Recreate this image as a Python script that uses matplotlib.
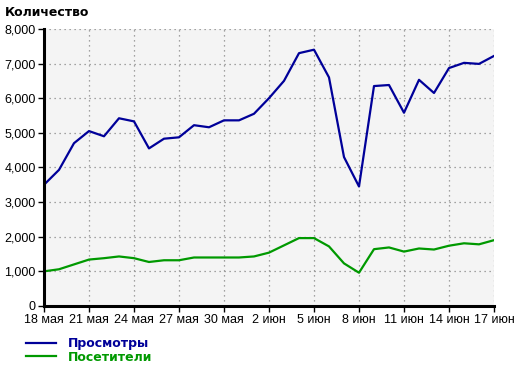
import matplotlib
matplotlib.use('Agg')
from matplotlib import pyplot as plt
from matplotlib.ticker import FuncFormatter
import numpy as np

# %% data (18 May .. 17 Jun, daily)
views = [3500, 3930, 4700, 5050, 4900, 5420, 5330, 4550, 4830, 4870,
         5220, 5160, 5360, 5360, 5550, 6000, 6500, 7300, 7400, 6600,
         4300, 3450, 6350, 6380, 5580, 6530, 6150, 6870, 7020, 6990, 7220]
visitors = [1000, 1060, 1200, 1340, 1380, 1430, 1380, 1270, 1320, 1320,
            1400, 1400, 1400, 1400, 1430, 1540, 1750, 1960, 1960, 1720,
            1230, 960, 1640, 1690, 1570, 1660, 1630, 1740, 1810, 1780, 1900]
tick_labels = ['18 мая', '21 мая', '24 мая', '27 мая', '30 мая', '2 июн',
               '5 июн', '8 июн', '11 июн', '14 июн', '17 июн']

# %% plot
plt.rcParams['font.family'] = 'Liberation Sans'
fig = plt.figure(figsize=(5.2, 3.66), dpi=100)
ax = fig.add_axes([0.0846, 0.164, 0.8654, 0.757])
ax.set_facecolor('#f4f4f4')

x = np.arange(len(views))
l1, = ax.plot(x, views, color='#000099', lw=1.6, label='Просмотры')
l2, = ax.plot(x, visitors, color='#009900', lw=1.6, label='Посетители')

ax.set_xlim(0, 30)
ax.set_ylim(0, 8000)
ax.set_xticks(np.arange(0, 31, 3))
ax.set_xticklabels(tick_labels)
ax.set_yticks(np.arange(0, 8001, 1000))
ax.yaxis.set_major_formatter(FuncFormatter(lambda v, p: '{:,.0f}'.format(v)))
ax.grid(True, color='#888888', linestyle=(0, (1, 3)), lw=0.9)

for s in ['top', 'right']:
    ax.spines[s].set_visible(False)
for s in ['left', 'bottom']:
    ax.spines[s].set_linewidth(2.2)
ax.tick_params(axis='both', length=4, width=1, labelsize=9, colors='black', pad=2)

fig.text(0.01, 0.965, 'Количество', fontsize=9, fontweight='bold', va='center',
         family='DejaVu Sans')

leg = fig.legend(handles=[l1, l2], loc='upper left', bbox_to_anchor=(0.029, 0.11),
                 frameon=False, handlelength=2.4, handletextpad=0.9,
                 labelspacing=0.05, prop={'weight': 'bold', 'size': 9,
                                          'family': 'DejaVu Sans'})
for t, c in zip(leg.get_texts(), ['#000099', '#009900']):
    t.set_color(c)

fig.savefig('out.png', dpi=100)
